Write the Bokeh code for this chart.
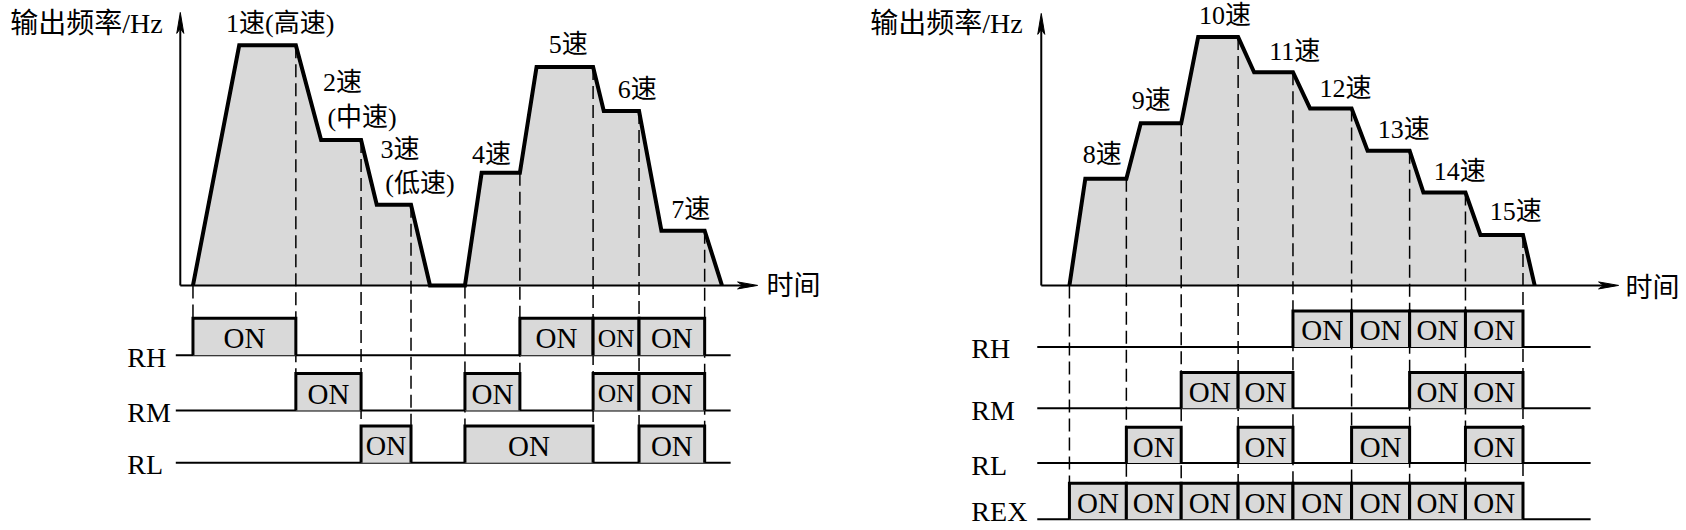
from bokeh.plotting import figure
from bokeh.models import Range1d
from bokeh.core.properties import value
from bokeh.embed import file_html
from bokeh.resources import INLINE

# ---------------- data (time / frequency in relative chart units) ----------------
# Left panel: speeds 1-7 selected by RH / RM / RL
left_first_speed = 1
left_level = [241, 146, 81, 113, 219.3, 175, 55]            # output frequency of each speed
left_reach = [59, 141, 196.7, 301.7, 356.7, 424, 481.7]     # time the speed level is reached
left_hold_end = [115.7, 181, 231, 340, 413.3, 459.3, 525]   # time the speed level ends
left_runs = [[1, 3], [4, 7]]                                 # speeds in each run
left_run_start = [12.7, 285]
left_run_stop = [250, 542.3]
left_rh_on = [[1, 1], [5, 5], [6, 6], [7, 7]]
left_rm_on = [[2, 2], [4, 4], [6, 6], [7, 7]]
left_rl_on = [[3, 3], [4, 5], [7, 7]]
left_speed_labels = ["1速(高速)", "2速", "(中速)", "3速", "(低速)", "4速", "5速", "6速", "7速"]

# Right panel: speeds 8-15 selected by RH / RM / RL / REX
right_first_speed = 8
right_level = [107, 162.7, 249.3, 214, 177.7, 135.3, 93.3, 50.7]
right_reach = [44.1, 99.6, 157.1, 213.1, 269.1, 326.7, 382.6, 439.7]
right_hold_end = [85.2, 140.1, 197.1, 252, 310.7, 368.8, 424.7, 482.3]
right_runs = [[8, 15]]
right_run_start = [28.2]
right_run_stop = [494]
right_rh_on = [[12, 12], [13, 13], [14, 14], [15, 15]]
right_rm_on = [[10, 10], [11, 11], [14, 14], [15, 15]]
right_rl_on = [[9, 9], [11, 11], [13, 13], [15, 15]]
right_rex_on = [[8, 8], [9, 9], [10, 10], [11, 11], [12, 12], [13, 13], [14, 14], [15, 15]]
right_speed_labels = ["8速", "9速", "10速", "11速", "12速", "13速", "14速", "15速"]

y_axis_title = "输出频率/Hz"
x_axis_title = "时间"
on_text = "ON"

# ---------------- layout / style ----------------
W, H = 1684, 528
FILL = "#d9d9d9"
FONT_MIX = "Liberation Serif, Noto Sans CJK SC"
FONT_SERIF = "Liberation Serif"
PX = W / 1686.0

left_layout = dict(ox=180, oy=286, y_top=12, x_end=758,
                   row_names=["RH", "RM", "RL"], row_on=[left_rh_on, left_rm_on, left_rl_on],
                   row_y=[356, 411.5, 464], label_y=[358, 413.5, 466], box_h=37,
                   row_x0=175.5, row_x1=731, label_x=127,
                   ytitle=(86, 23), xtitle=(767, 287),
                   label_pos=[(280, 23), (342.5, 82), (362, 117), (400, 150), (420, 184),
                              (491.5, 155), (568.5, 44), (637.5, 89), (691, 210)])
right_layout = dict(ox=1042, oy=286, y_top=13, x_end=1620,
                    row_names=["RH", "RM", "RL", "REX"],
                    row_on=[right_rh_on, right_rm_on, right_rl_on, right_rex_on],
                    row_y=[347.7, 409.3, 464.3, 520.7], label_y=[349.7, 411.3, 466.3, 513],
                    box_h=36, row_x0=1038, row_x1=1592, label_x=972,
                    ytitle=(947, 23), xtitle=(1627, 289),
                    label_pos=[(1103, 155), (1152, 100), (1226, 15), (1295.7, 51), (1346.5, 88),
                               (1405, 129), (1461, 172), (1517, 212)])

p = figure(width=W, height=H, x_range=Range1d(0, 1686), y_range=Range1d(530, 0),
           output_backend="svg", toolbar_location=None, min_border=0,
           x_axis_location=None, y_axis_location=None)
p.xgrid.visible = False
p.ygrid.visible = False
p.outline_line_color = None
p.background_fill_color = "white"
p.border_fill_color = "white"


def draw_panel(level, reach, hold_end, runs, run_start, run_stop, first, speed_labels, L):
    ox, oy = L["ox"], L["oy"]
    n = len(level)
    X = lambda t: ox + t
    Y = lambda f: oy - f

    # segment bounds of each speed
    seg_s, seg_e = [], []
    for i in range(n):
        no = first + i
        s = None
        for r, (a, b) in enumerate(runs):
            if no == a:
                s = run_start[r]
        if s is None:
            s = hold_end[i - 1]
        seg_s.append(s)
        seg_e.append(hold_end[i])

    # profile
    fx, fy, lx, ly = [], [], [], []
    for r, (a, b) in enumerate(runs):
        ts = [run_start[r]]
        fs = [0]
        for no in range(a, b + 1):
            i = no - first
            ts += [reach[i], hold_end[i]]
            fs += [level[i], level[i]]
        ts.append(run_stop[r])
        fs.append(0)
        fx.append([X(t) for t in ts])
        fy.append([Y(f) for f in fs])
        lx += [X(t) for t in ts]
        ly += [Y(f) for f in fs]
    p.patches(fx, fy, fill_color=FILL, line_color=None)

    # dashed guide lines
    bounds = {}
    for r in range(len(runs)):
        bounds[round(run_start[r], 2)] = 0
    for i in range(n):
        bounds[round(hold_end[i], 2)] = level[i]
    dxs, dys = [], []
    for t, f in sorted(bounds.items()):
        lowest = None
        for ri, boxes in enumerate(L["row_on"]):
            for a, b in boxes:
                if abs(seg_s[a - first] - t) < 0.05 or abs(seg_e[b - first] - t) < 0.05:
                    lowest = ri
        if lowest is None:
            continue
        bottom = L["row_y"][lowest] - L["box_h"]
        dxs.append([X(t), X(t)])
        dys.append([Y(f), bottom])
    p.multi_line(dxs, dys, line_color="black", line_width=1.5, line_dash="13 6")

    # axes with arrows
    p.segment(x0=[ox, ox], y0=[oy, oy], x1=[ox, L["x_end"] - 14], y1=[L["y_top"] + 14, oy],
              line_color="black", line_width=2)
    yt, xe = L["y_top"], L["x_end"]
    p.patches([[ox, ox - 3.5, ox, ox + 3.5], [xe, xe - 20, xe - 15, xe - 20]],
              [[yt, yt + 21, yt + 16, yt + 21], [oy, oy - 3.5, oy, oy + 3.5]],
              fill_color="black", line_color="black", line_width=1)

    # profile outline
    p.line(lx, ly, line_color="black", line_width=4, line_join="miter")

    # timing rows
    p.segment(x0=[L["row_x0"]] * len(L["row_y"]), y0=L["row_y"],
              x1=[L["row_x1"]] * len(L["row_y"]), y1=L["row_y"], line_color="black", line_width=2)
    for ri, boxes in enumerate(L["row_on"]):
        base = L["row_y"][ri]
        top = base - L["box_h"]
        for a, b in boxes:
            x0, x1 = X(seg_s[a - first]), X(seg_e[b - first])
            p.quad(left=[x0], right=[x1], top=[top], bottom=[base], fill_color=FILL, line_color=None)
            p.line([x0, x0, x1, x1], [base, top, top, base], line_color="black", line_width=3,
                   line_join="miter")
            w_px = (x1 - x0) * PX
            fs = min(29.0, (w_px - 9) / 1.45)
            p.text(x=[(x0 + x1) / 2], y=[top + L["box_h"] / 2 + 1.5], text=[on_text],
                   text_font=value(FONT_SERIF), text_font_size=f"{fs:.1f}px",
                   text_align="center", text_baseline="middle", text_color="black")
    p.text(x=[L["label_x"]] * len(L["row_names"]), y=L["label_y"], text=L["row_names"],
           text_font=value(FONT_SERIF), text_font_size="28px", text_align="left",
           text_baseline="middle", text_color="black")

    # titles
    p.text(x=[L["ytitle"][0]], y=[L["ytitle"][1]], text=[y_axis_title], text_font=value(FONT_MIX),
           text_font_size="28px", text_align="center", text_baseline="middle", text_color="black")
    p.text(x=[L["xtitle"][0]], y=[L["xtitle"][1]], text=[x_axis_title], text_font=value(FONT_MIX),
           text_font_size="27px", text_align="left", text_baseline="middle", text_color="black")

    # speed labels
    p.text(x=[q[0] for q in L["label_pos"]], y=[q[1] for q in L["label_pos"]], text=speed_labels,
           text_font=value(FONT_MIX), text_font_size="26px", text_align="center",
           text_baseline="middle", text_color="black")


draw_panel(left_level, left_reach, left_hold_end, left_runs, left_run_start, left_run_stop,
           left_first_speed, left_speed_labels, left_layout)
draw_panel(right_level, right_reach, right_hold_end, right_runs, right_run_start, right_run_stop,
           right_first_speed, right_speed_labels, right_layout)

open("out.html", "w").write(file_html(p, INLINE))
